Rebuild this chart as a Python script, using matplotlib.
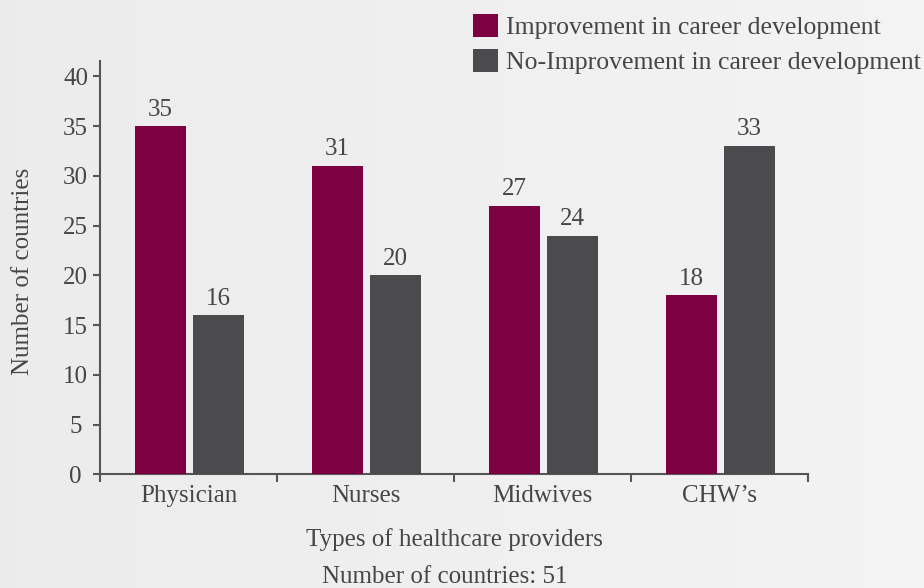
import numpy as np
import matplotlib
matplotlib.use("Agg")
import matplotlib.pyplot as plt

# Data
categories = ["Physician", "Nurses", "Midwives", "CHW\u2019s"]
improved = [35, 31, 27, 18]
not_improved = [16, 20, 24, 33]
series_labels = ["Improvement in career development",
                 "No-Improvement in career development"]
y_ticks = [0, 5, 10, 15, 20, 25, 30, 35, 40]

# Style
plt.rcParams["font.family"] = ["Liberation Serif", "DejaVu Serif"]
text_color = "#464646"
spine_color = "#555555"
c_improved = "#7d0042"
c_not = "#4b4b4d"
fs = 18

W, H, DPI = 924, 588, 100
fig = plt.figure(figsize=(W / DPI, H / DPI), dpi=DPI)
fig.patch.set_facecolor("#f0f0f0")

# soft light-grey backdrop, slightly darker toward the left
bg = fig.add_axes([0, 0, 1, 1], zorder=-10)
grad = np.linspace(0.925, 0.955, 256)[None, :]
bg.imshow(np.dstack([grad, grad, grad]), aspect="auto", extent=[0, 1, 0, 1])
bg.axis("off")

ax_left, ax_right = 100, 808
ax_bottom, ax_top = 474.3, 61.4
ax = fig.add_axes([ax_left / W, 1 - ax_bottom / H,
                   (ax_right - ax_left) / W, (ax_bottom - ax_top) / H])
ax.set_facecolor("none")

x = np.arange(len(categories))
bw = 0.288
off = 0.165
shift = 0.005
b1 = ax.bar(x - off + shift, improved, bw, color=c_improved,
            label=series_labels[0], zorder=3)
b2 = ax.bar(x + off + shift, not_improved, bw, color=c_not,
            label=series_labels[1], zorder=3)

for bars, vals in ((b1, improved), (b2, not_improved)):
    for rect, v in zip(bars, vals):
        ax.annotate(str(v), (rect.get_x() + rect.get_width() / 2, v),
                    xytext=(0, 7.6), textcoords="offset points",
                    ha="center", va="baseline", fontsize=fs, color=text_color)

ax.set_xlim(-0.5, len(categories) - 0.5)
ax.set_ylim(0, 41.5)

for s in ("top", "right"):
    ax.spines[s].set_visible(False)
for s in ("left", "bottom"):
    ax.spines[s].set_color(spine_color)
    ax.spines[s].set_linewidth(1.5)

ax.set_yticks(y_ticks)
ax.tick_params(axis="y", direction="out", length=5, width=1.5, color=spine_color,
               pad=12.6, labelsize=fs, labelcolor=text_color)
for lab in ax.get_yticklabels():
    lab.set_horizontalalignment("center")

ax.set_xticks(x)
ax.set_xticklabels(categories)
ax.set_xticks(np.arange(-0.5, len(categories)), minor=True)
ax.tick_params(axis="x", which="major", length=0, pad=7.5,
               labelsize=fs, labelcolor=text_color)
ax.tick_params(axis="x", which="minor", direction="out", length=5.8, width=1.5,
               color=spine_color)

ax.set_xlabel("Types of healthcare providers", fontsize=fs, color=text_color,
              labelpad=15.5)
ax.set_ylabel("Number of countries", fontsize=fs, color=text_color)
ax.yaxis.label.set_verticalalignment("center")
ax.yaxis.set_label_coords((23 - ax_left) / (ax_right - ax_left),
                          (ax_bottom - 271.5) / (ax_bottom - ax_top))

fig.text(444.5 / W, 1 - 583 / H, "Number of countries: 51", ha="center",
         va="baseline", fontsize=fs, color=text_color)

leg = fig.legend(handles=[b1, b2], loc="upper left",
                 bbox_to_anchor=(472.7 / W, 1 - 14 / H), frameon=False,
                 fontsize=18.5, handlelength=1.0, handleheight=1.0,
                 handletextpad=0.3, labelspacing=0.36, borderpad=0,
                 borderaxespad=0)
for t in leg.get_texts():
    t.set_color(text_color)

fig.savefig("out.png", dpi=DPI, facecolor=fig.get_facecolor())
